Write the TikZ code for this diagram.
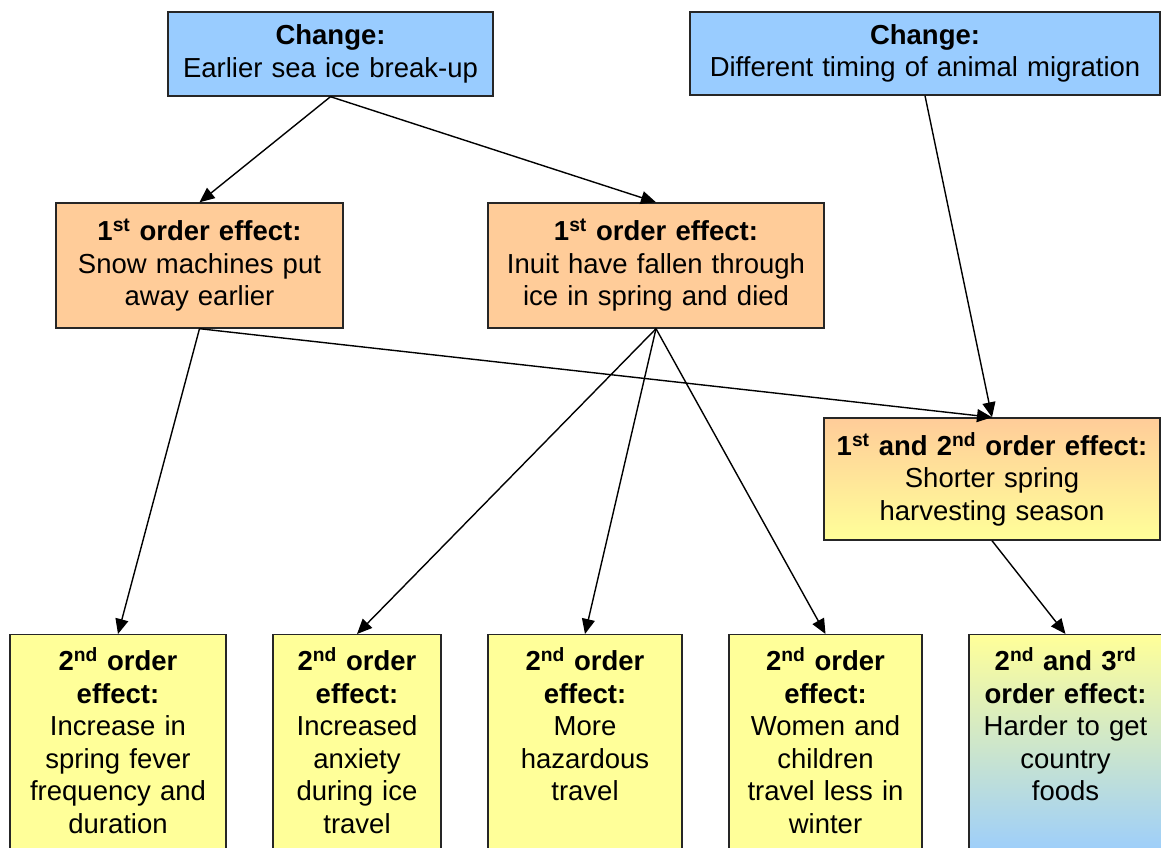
\documentclass[tikz,border=0pt]{standalone}
\usepackage{fontspec}
\setmainfont{Liberation Sans}
\usetikzlibrary{arrows.meta}
\definecolor{changeblue}{HTML}{99CCFF}
\definecolor{effectorange}{HTML}{FFCC99}
\definecolor{effectyellow}{HTML}{FFFF99}
\tikzset{
  box/.style={draw=black!85, line width=1.4pt, align=center, inner sep=0pt,
    font=\fontsize{27.5}{32.5}\selectfont},
  changebox/.style={box, fill=changeblue},
  firstbox/.style={box, fill=effectorange},
  lowbox/.style={box, fill=effectyellow, anchor=north, text height=36pt, text depth=190pt},
  link/.style={-{Triangle[length=15pt,width=13pt]}, line width=1.4pt},
}
\begin{document}
\begin{tikzpicture}[x=1pt,y=-1pt]
\clip (0,0) rectangle (1161,848);
% changes
\node[changebox, text width=325pt, minimum height=84pt] (brk) at (330.5,54)
  {\textbf{Change:}\\Earlier sea ice break-up};
\node[changebox, text width=470pt, minimum height=83pt] (mig) at (925,53.5)
  {\textbf{Change:}\\Different timing of animal migration};
% first order
\node[firstbox, text width=287pt, minimum height=125pt] (snow) at (199.5,265.5)
  {\textbf{1\textsuperscript{st} order effect:}\\Snow machines put\\away earlier};
\node[firstbox, text width=336pt, minimum height=125pt] (fall) at (656,265.5)
  {\textbf{1\textsuperscript{st} order effect:}\\Inuit have fallen through\\ice in spring and died};
\node[box, top color=effectorange, bottom color=effectyellow, text width=336pt,
  minimum height=122pt] (short) at (992,479)
  {\textbf{1\textsuperscript{st} and 2\textsuperscript{nd} order effect:}\\Shorter spring\\harvesting season};
% second order
\node[lowbox, text width=216pt] (fever) at (118,634)
  {\textbf{2\textsuperscript{nd} order}\\\textbf{effect:}\\Increase in\\spring fever\\frequency and\\duration};
\node[lowbox, text width=168pt] (anx) at (357,634)
  {\textbf{2\textsuperscript{nd} order}\\\textbf{effect:}\\Increased\\anxiety\\during ice\\travel};
\node[lowbox, text width=194pt] (haz) at (585,634)
  {\textbf{2\textsuperscript{nd} order}\\\textbf{effect:}\\More\\hazardous\\travel};
\node[lowbox, text width=193pt] (wom) at (825.5,634)
  {\textbf{2\textsuperscript{nd} order}\\\textbf{effect:}\\Women and\\children\\travel less in\\winter};
\node[lowbox, top color=effectyellow, bottom color=changeblue, text width=193pt] (food) at (1065.5,634)
  {\textbf{2\textsuperscript{nd} and 3\textsuperscript{rd}}\\\textbf{order effect:}\\Harder to get\\country\\foods};
% links
\draw[link] (brk.south) -- (snow.north);
\draw[link] (brk.south) -- (fall.north);
\draw[link] (mig.south) -- (short.north);
\draw[link] (snow.south) -- (short.north);
\draw[link] (snow.south) -- (fever.north);
\draw[link] (fall.south) -- (anx.north);
\draw[link] (fall.south) -- (haz.north);
\draw[link] (fall.south) -- (wom.north);
\draw[link] (short.south) -- (food.north);
\end{tikzpicture}
\end{document}
